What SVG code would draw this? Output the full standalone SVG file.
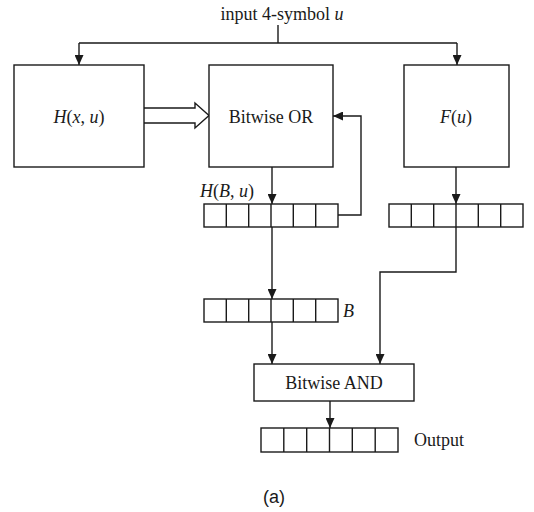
<svg xmlns="http://www.w3.org/2000/svg" width="534" height="512" viewBox="0 0 534 512">
<defs>
<marker id="ah" markerUnits="userSpaceOnUse" markerWidth="10" markerHeight="9" refX="10" refY="4.5" orient="auto">
<path d="M0,0 L10,4.5 L0,9 z" fill="#1a1a1a"/>
</marker>
</defs>
<style>
.box{fill:#fff;stroke:#1a1a1a;stroke-width:1.4}
.ln{fill:none;stroke:#1a1a1a;stroke-width:1.4}
.t{font-family:"Liberation Serif",serif;font-size:18px;fill:#1a1a1a}
.i{font-style:italic}
</style>
<rect width="534" height="512" fill="#fff"/>
<g id="connectors">
<path class="ln" d="M278,25 V43 M79,43 H457"/>
<path class="ln" d="M79,43 V65" marker-end="url(#ah)"/>
<path class="ln" d="M457,43 V65" marker-end="url(#ah)"/>
<path class="box" d="M144,108 H195 V103 L209,115.5 L195,128 V123 H144"/>
<path class="ln" d="M338,215 H361 V116 H333" marker-end="url(#ah)"/>
<path class="ln" d="M272,167 V204" marker-end="url(#ah)"/>
<path class="ln" d="M272,227 V299" marker-end="url(#ah)"/>
<path class="ln" d="M272,322 V364" marker-end="url(#ah)"/>
<path class="ln" d="M456,167 V204" marker-end="url(#ah)"/>
<path class="ln" d="M456,227 V272 H380 V364" marker-end="url(#ah)"/>
<path class="ln" d="M330,401 V428" marker-end="url(#ah)"/>
</g>
<g id="input-label"><text class="t" x="282" y="20" text-anchor="middle">input 4-symbol <tspan class="i">u</tspan></text></g>
<g id="H"><rect class="box" x="14" y="65" width="130" height="102"/><text class="t" x="79" y="123" text-anchor="middle"><tspan class="i">H</tspan>(<tspan class="i">x</tspan>, <tspan class="i">u</tspan>)</text></g>
<g id="OR"><rect class="box" x="209" y="65" width="124" height="102"/><text class="t" x="271" y="123" text-anchor="middle">Bitwise OR</text></g>
<g id="F"><rect class="box" x="404" y="65" width="105" height="102"/><text class="t" x="456" y="123" text-anchor="middle"><tspan class="i">F</tspan>(<tspan class="i">u</tspan>)</text></g>
<g id="reg-HBu">
<rect class="box" x="204" y="204" width="134" height="23"/>
<path class="ln" d="M226.3,204 V227 M248.7,204 V227 M271,204 V227 M293.3,204 V227 M315.7,204 V227"/>
<text class="t" x="200" y="197"><tspan class="i">H</tspan>(<tspan class="i">B</tspan>, <tspan class="i">u</tspan>)</text>
</g>
<g id="reg-F">
<rect class="box" x="389" y="204" width="134" height="23"/>
<path class="ln" d="M411.3,204 V227 M433.7,204 V227 M456,204 V227 M478.3,204 V227 M500.7,204 V227"/>
</g>
<g id="reg-B">
<rect class="box" x="204" y="299" width="134" height="23"/>
<path class="ln" d="M226.3,299 V322 M248.7,299 V322 M271,299 V322 M293.3,299 V322 M315.7,299 V322"/>
<text class="t i" x="343" y="317">B</text>
</g>
<g id="AND"><rect class="box" x="254" y="364" width="160" height="37"/><text class="t" x="334" y="389" text-anchor="middle">Bitwise AND</text></g>
<g id="reg-out">
<rect class="box" x="261" y="428" width="137" height="24"/>
<path class="ln" d="M283.8,428 V452 M306.7,428 V452 M329.5,428 V452 M352.3,428 V452 M375.2,428 V452"/>
<text class="t" x="414" y="446">Output</text>
</g>
<text x="274" y="503" text-anchor="middle" style="font-family:'Liberation Sans',sans-serif;font-size:18px;fill:#1a1a1a">(a)</text>
</svg>
